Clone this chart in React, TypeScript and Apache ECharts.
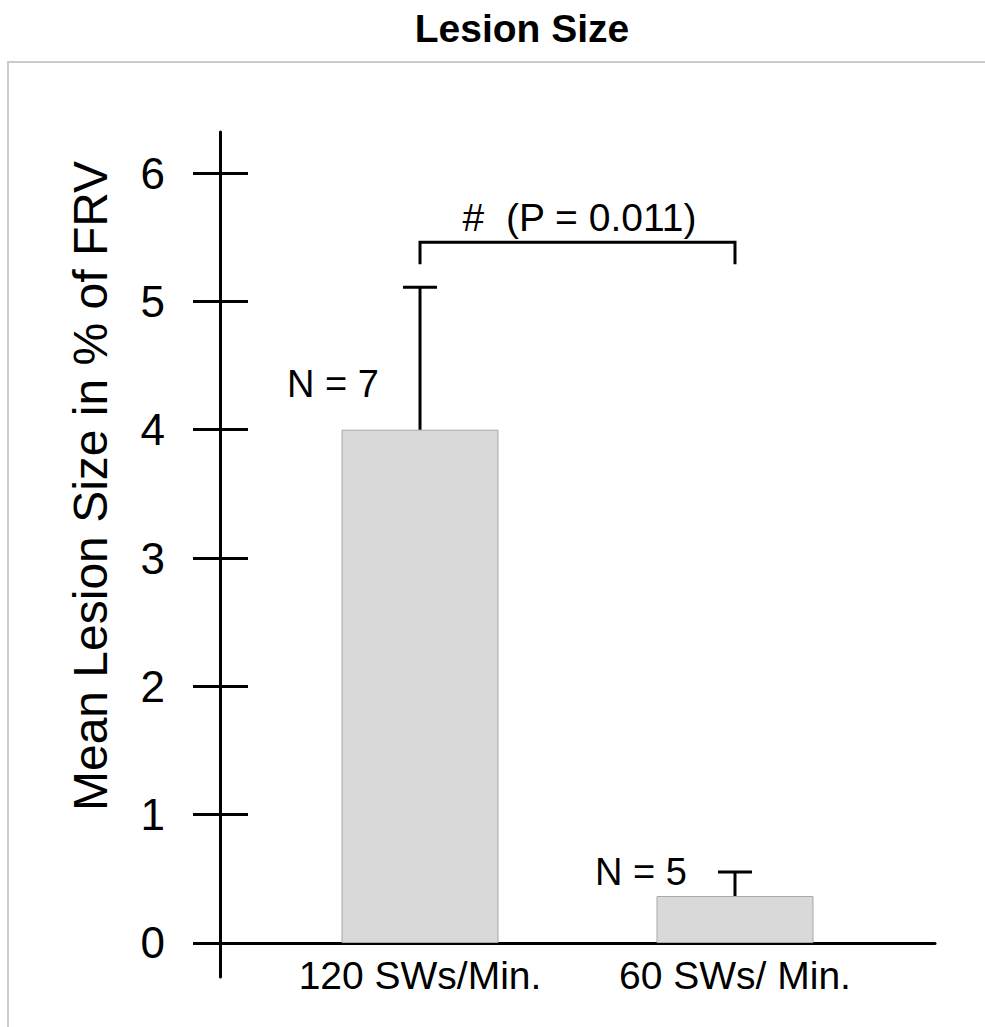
import React, { useEffect, useRef } from "react";
import * as echarts from "echarts";

const categories = ["120 SWs/Min.", "60 SWs/ Min."];
const means = [4.0, 0.366];
const errorTops = [5.11, 0.553];
const nLabels = ["N = 7", "N = 5"];
const yTicks = [0, 1, 2, 3, 4, 5, 6];
const bracketText = "#  (P = 0.011)";
const bracketLevel = 5.46;
const titleText = "Lesion Size";
const yAxisName = "Mean Lesion Size in % of FRV";

const FONT = "'Liberation Sans', Arial, Helvetica, sans-serif";

export default function App() {
  const ref = useRef<HTMLDivElement>(null);
  useEffect(() => {
    if (!ref.current) return;
    const chart = echarts.init(ref.current, null, { renderer: "svg" });
    const barData = categories.map((_, i) => [i, means[i]]);
    const errData = categories.map((_, i) => [i, means[i], errorTops[i]]);
    const option: any = {
      animation: false,
      backgroundColor: "#ffffff",
      textStyle: { fontFamily: FONT, color: "#000" },
      grid: { left: 220, right: 50, top: 132, bottom: 50 },
      xAxis: {
        type: "value",
        min: -0.635,
        max: 1.635,
        offset: -34,
        axisLine: { show: true, onZero: false, lineStyle: { color: "#000", width: 3 } },
        axisTick: { show: false },
        splitLine: { show: false },
        axisLabel: {
          customValues: [0, 1],
          formatter: (v: number) => categories[Math.round(v)] ?? "",
          fontSize: 39,
          fontFamily: FONT,
          color: "#000",
          margin: 13,
        },
      },
      yAxis: [
        {
          type: "value",
          min: -0.265,
          max: 6.32,
          position: "left",
          axisLine: { show: true, onZero: false, lineStyle: { color: "#000", width: 3 } },
          axisTick: {
            show: true,
            customValues: yTicks,
            length: 27,
            lineStyle: { color: "#000", width: 3 },
          },
          axisLabel: {
            customValues: yTicks,
            fontSize: 44,
            fontFamily: FONT,
            color: "#000",
            margin: 55,
          },
          splitLine: { show: false },
        },
        {
          type: "value",
          min: -0.265,
          max: 6.32,
          position: "left",
          offset: 0,
          axisLine: { show: false, onZero: false },
          axisTick: {
            show: true,
            inside: true,
            customValues: yTicks,
            length: 28,
            lineStyle: { color: "#000", width: 3 },
          },
          axisLabel: { show: false },
          splitLine: { show: false },
        },
      ],
      series: [
        {
          type: "bar",
          data: barData,
          barWidth: 157,
          itemStyle: { color: "#d9d9d9", borderColor: "#a8a8a8", borderWidth: 1 },
          z: 1,
        },
        {
          type: "custom",
          data: errData,
          z: 3,
          renderItem: (params: any, api: any) => {
            const x = api.value(0);
            const lo = api.coord([x, api.value(1)]);
            const hi = api.coord([x, api.value(2)]);
            const half = 17;
            return {
              type: "group",
              children: [
                {
                  type: "line",
                  shape: { x1: lo[0], y1: lo[1], x2: hi[0], y2: hi[1] },
                  style: { stroke: "#000", lineWidth: 3 },
                },
                {
                  type: "line",
                  shape: { x1: hi[0] - half, y1: hi[1], x2: hi[0] + half, y2: hi[1] },
                  style: { stroke: "#000", lineWidth: 3 },
                },
              ],
            };
          },
        },
        {
          type: "custom",
          data: [[0, 1, bracketLevel]],
          z: 3,
          renderItem: (params: any, api: any) => {
            const a = api.coord([api.value(0), api.value(2)]);
            const b = api.coord([api.value(1), api.value(2)]);
            const leg = 22;
            return {
              type: "group",
              children: [
                {
                  type: "polyline",
                  shape: {
                    points: [
                      [a[0], a[1] + leg],
                      [a[0], a[1]],
                      [b[0], b[1]],
                      [b[0], b[1] + leg],
                    ],
                  },
                  style: { stroke: "#000", lineWidth: 3, fill: null },
                },
                {
                  type: "text",
                  x: (a[0] + b[0]) / 2 + 2,
                  y: a[1] - 25,
                  style: {
                    text: bracketText,
                    fontSize: 39,
                    fontFamily: FONT,
                    fill: "#000",
                    align: "center",
                    verticalAlign: "middle",
                  },
                },
              ],
            };
          },
        },
      ],
      graphic: [
        {
          type: "rect",
          shape: { x: 8, y: 62, width: 1200, height: 1200 },
          style: { fill: null, stroke: "#cccccc", lineWidth: 2 },
          z: 0,
          silent: true,
        },
        {
          type: "text",
          x: 522,
          y: 28,
          style: {
            text: titleText,
            fontSize: 39,
            fontWeight: "bold",
            fontFamily: FONT,
            fill: "#000",
            align: "center",
            verticalAlign: "middle",
          },
        },
        {
          type: "text",
          x: 90,
          y: 486,
          rotation: Math.PI / 2,
          style: {
            text: yAxisName,
            fontSize: 48,
            fontFamily: FONT,
            fill: "#000",
            align: "center",
            verticalAlign: "middle",
          },
        },
        {
          type: "text",
          x: 333,
          y: 384,
          style: {
            text: nLabels[0],
            fontSize: 38,
            fontFamily: FONT,
            fill: "#000",
            align: "center",
            verticalAlign: "middle",
          },
        },
        {
          type: "text",
          x: 641,
          y: 872,
          style: {
            text: nLabels[1],
            fontSize: 38,
            fontFamily: FONT,
            fill: "#000",
            align: "center",
            verticalAlign: "middle",
          },
        },
      ],
    };
    chart.setOption(option);
    return () => chart.dispose();
  }, []);
  return (
    <div
      ref={ref}
      style={{ position: "absolute", left: 0, top: 0, width: 985, height: 1027 }}
    />
  );
}
